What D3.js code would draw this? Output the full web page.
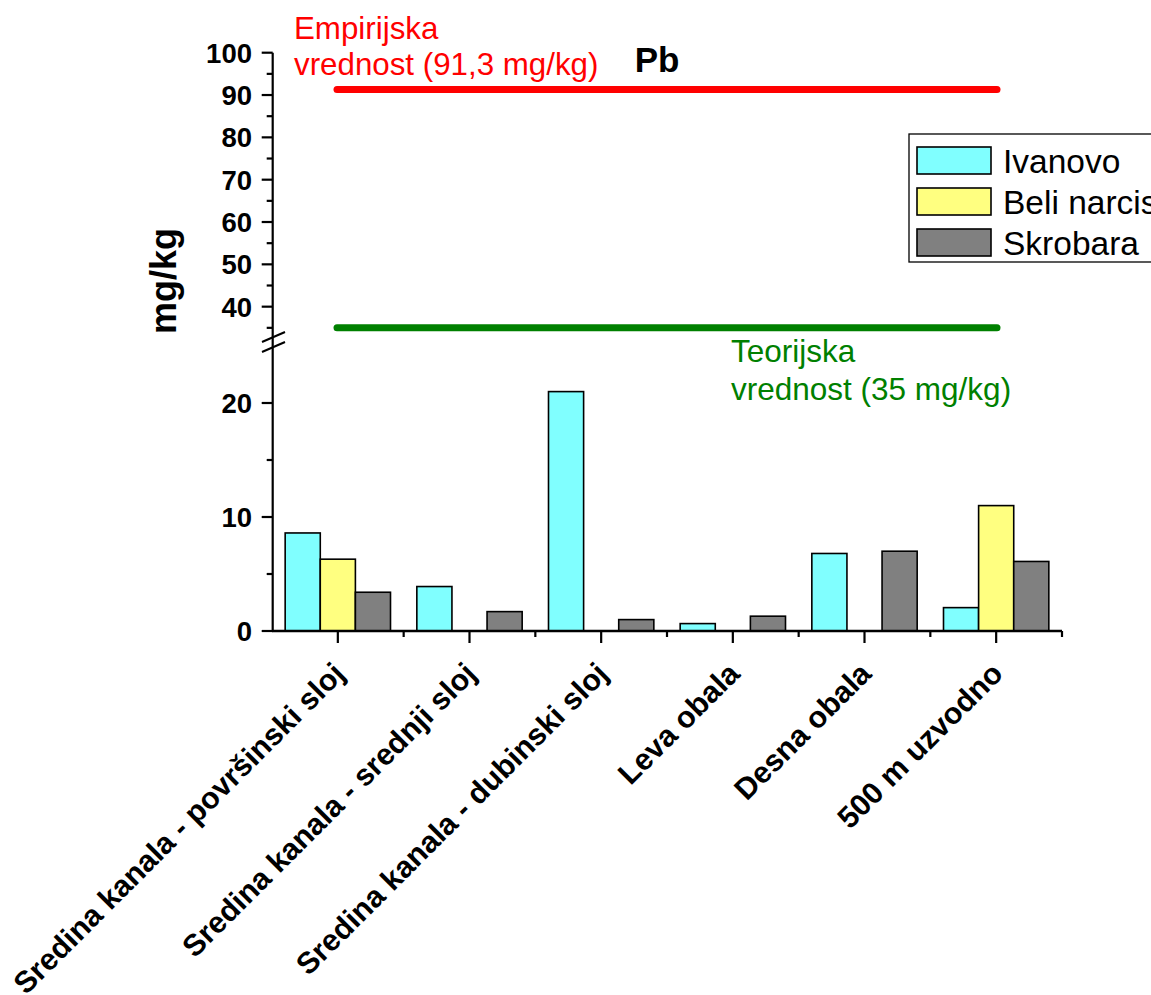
<!DOCTYPE html>
<html>
<head>
<meta charset="utf-8">
<script src="https://cdn.jsdelivr.net/npm/d3@7"></script>
<style>
  html, body { margin: 0; padding: 0; background: #fff; }
  svg { display: block; }
  text { font-family: "Liberation Sans", Arial, sans-serif; }
</style>
</head>
<body>
<svg id="chart" width="1151" height="995"></svg>
<script>
// ---- data ----
const categories = [
  "Sredina kanala - površinski sloj",
  "Sredina kanala - srednji sloj",
  "Sredina kanala - dubinski sloj",
  "Leva obala",
  "Desna obala",
  "500 m uzvodno"
];
const seriesNames = ["Ivanovo", "Beli narcis", "Skrobara"];
const ivanovo    = [8.6, 3.9, 21.0, 0.65, 6.8, 2.05];
const beliNarcis = [6.3, 0,   0,    0,    0,   11.0];
const skrobara   = [3.4, 1.7, 1.0,  1.3,  7.0, 6.1];
const seriesColors = ["#80ffff", "#ffff80", "#808080"];
const upperTicks = [40, 50, 60, 70, 80, 90, 100];
const upperMinor = [35, 45, 55, 65, 75, 85, 95];
const lowerTicks = [0, 10, 20];
const lowerMinor = [5, 15];
const empirical = 91.3;
const theoretical = 35;
const titleText = "Pb";
const yLabel = "mg/kg";
const empiricalLabel = ["Empirijska", "vrednost (91,3 mg/kg)"];
const theoreticalLabel = ["Teorijska", "vrednost (35 mg/kg)"];

const seriesValues = [ivanovo, beliNarcis, skrobara];

const svg = d3.select("#chart");

// ---- scales ----
const xLeft = 272, xRight = 1062;
const x0 = d3.scaleBand().domain(categories).range([xLeft, xRight])
  .paddingInner(0.2).paddingOuter(0.1);
const x1 = d3.scaleBand().domain(seriesNames).range([0, x0.bandwidth()]);

const yU = d3.scaleLinear().domain([33, 100]).range([336.3, 52.7]);   // upper segment
const yL = d3.scaleLinear().domain([0, 25]).range([631, 346]);        // lower segment

// ---- bars ----
const groups = svg.append("g").selectAll("g")
  .data(categories).join("g")
  .attr("transform", d => `translate(${x0(d)},0)`);

groups.selectAll("rect")
  .data((d, i) => seriesNames.map((s, j) => ({ s, j, v: seriesValues[j][i] })).filter(o => o.v > 0))
  .join("rect")
  .attr("x", o => x1(o.s))
  .attr("width", x1.bandwidth())
  .attr("y", o => yL(o.v))
  .attr("height", o => yL(0) - yL(o.v))
  .attr("fill", o => seriesColors[o.j])
  .attr("stroke", "#000")
  .attr("stroke-width", 1.6);

// ---- y axis ----
const axisX = 272.7;
const yAxisG = svg.append("g");
yAxisG.append("line")
  .attr("x1", axisX).attr("x2", axisX)
  .attr("y1", yU(100)).attr("y2", yL(0))
  .attr("stroke", "#000").attr("stroke-width", 2.2);

function yTicks(scale, majors, minors) {
  majors.forEach(v => {
    yAxisG.append("line").attr("x1", axisX - 11).attr("x2", axisX)
      .attr("y1", scale(v)).attr("y2", scale(v))
      .attr("stroke", "#000").attr("stroke-width", 2.2);
    yAxisG.append("text").attr("x", 252).attr("y", scale(v))
      .attr("dy", "0.36em").attr("text-anchor", "end")
      .attr("font-size", 27.5).attr("font-weight", "bold").text(v);
  });
  minors.forEach(v => {
    yAxisG.append("line").attr("x1", axisX - 6).attr("x2", axisX)
      .attr("y1", scale(v)).attr("y2", scale(v))
      .attr("stroke", "#000").attr("stroke-width", 2.2);
  });
}
yTicks(yU, upperTicks, upperMinor);
yTicks(yL, lowerTicks, lowerMinor);

// break marks
[0, 10].forEach(off => {
  yAxisG.append("line")
    .attr("x1", 262).attr("y1", 342 + off)
    .attr("x2", 285).attr("y2", 332 + off)
    .attr("stroke", "#000").attr("stroke-width", 2);
});

// y label
svg.append("text")
  .attr("transform", `translate(176,281) rotate(-90)`)
  .attr("text-anchor", "middle")
  .attr("font-size", 36).attr("font-weight", "bold")
  .text(yLabel);

// ---- x axis ----
const xAxis = d3.axisBottom(x0).tickSize(12).tickFormat("");
const xg = svg.append("g").attr("transform", `translate(0,${yL(0)})`).call(xAxis);
xg.select(".domain").attr("d", `M${xLeft},0H${xRight}`).attr("stroke-width", 2.5);
xg.selectAll(".tick line").attr("stroke-width", 2.2);
// minor ticks at band boundaries
const step = x0.step();
d3.range(1, categories.length + 1).forEach(i => {
  const bx = xLeft + i * step;
  xg.append("line").attr("x1", bx).attr("x2", bx).attr("y1", 0).attr("y2", 6)
    .attr("stroke", "#000").attr("stroke-width", 2.2);
});

// category labels
svg.append("g").selectAll("text")
  .data(categories).join("text")
  .attr("transform", d => `translate(${x0(d) + x0.bandwidth() / 2 + 1},668) rotate(-45)`)
  .attr("text-anchor", "end")
  .attr("dy", "0.35em")
  .attr("font-size", 30.3).attr("font-weight", "bold")
  .text(d => d);

// ---- reference lines ----
const lineX1 = 337, lineX2 = 997;
svg.append("line")
  .attr("x1", lineX1).attr("x2", lineX2)
  .attr("y1", yU(empirical)).attr("y2", yU(empirical))
  .attr("stroke", "#ff0000").attr("stroke-width", 7).attr("stroke-linecap", "round");
svg.append("line")
  .attr("x1", lineX1).attr("x2", lineX2)
  .attr("y1", yU(theoretical)).attr("y2", yU(theoretical))
  .attr("stroke", "#008000").attr("stroke-width", 7).attr("stroke-linecap", "round");

const empT = svg.append("text").attr("fill", "#ff0000").attr("font-size", 31.3);
empiricalLabel.forEach((t, i) => empT.append("tspan").attr("x", 294).attr("y", 39 + i * 36).text(t));
const teoT = svg.append("text").attr("fill", "#008000").attr("font-size", 31.5);
theoreticalLabel.forEach((t, i) => teoT.append("tspan").attr("x", 731).attr("y", 362 + i * 38).text(t));

// title
svg.append("text").attr("x", 657).attr("y", 72).attr("text-anchor", "middle")
  .attr("font-size", 35).attr("font-weight", "bold").text(titleText);

// ---- legend ----
const lg = svg.append("g");
lg.append("rect").attr("x", 909).attr("y", 134).attr("width", 400).attr("height", 128)
  .attr("fill", "#fff").attr("stroke", "#000").attr("stroke-width", 1.3);
seriesNames.forEach((s, i) => {
  const yy = 147 + i * 41;
  lg.append("rect").attr("x", 917).attr("y", yy).attr("width", 74).attr("height", 27)
    .attr("fill", seriesColors[i]).attr("stroke", "#000").attr("stroke-width", 1.6);
  lg.append("text").attr("x", 1003).attr("y", yy + 26)
    .attr("font-size", 33.5).text(s);
});
</script>
</body>
</html>
